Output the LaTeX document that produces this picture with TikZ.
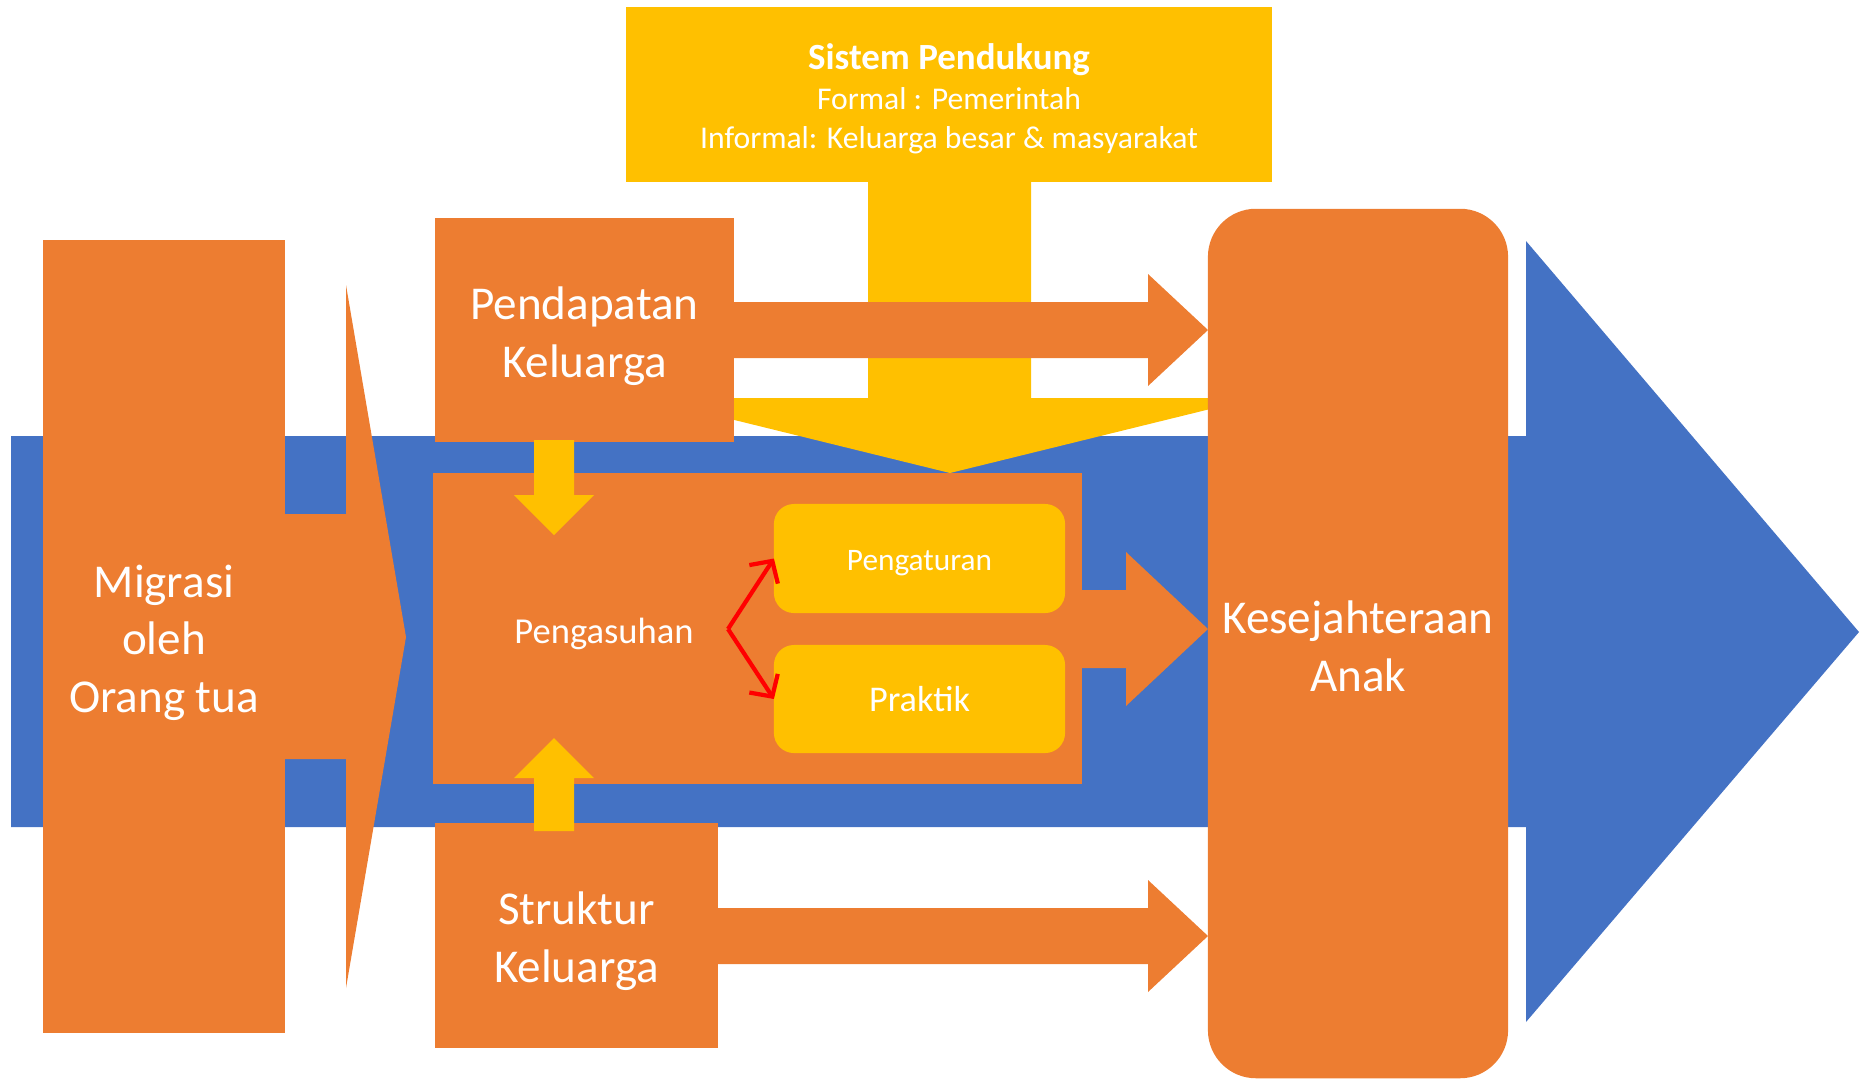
\documentclass[tikz,border=0pt]{standalone}
\usepackage{fontspec}
\setmainfont{Carlito}
\usetikzlibrary{arrows.meta,positioning,calc}
\definecolor{oranye}{HTML}{ED7D31}
\definecolor{biru}{HTML}{4472C4}
\definecolor{kuning}{HTML}{FFC000}
\definecolor{merah}{HTML}{FF0000}
\tikzset{
  kotak/.style={fill=oranye,inner sep=0pt,outer sep=0pt},
  kotakk/.style={fill=kuning,inner sep=0pt,outer sep=0pt,rounded corners=0.2cm},
  teks/.style={label={[text=white,align=center,font=\fontsize{13.4}{16.4}\selectfont,yshift=-0.06cm]center:#1}},
  tekss/.style={label={[text=white,font=\fontsize{8.9}{11}\selectfont,yshift=-0.05cm]center:#1}},
  panah/.style={merah,line width=1.2pt,-{Straight Barb[length=1.6mm,width=3.4mm]}},
}
\begin{document}
\begin{tikzpicture}[x=0.01cm,y=-0.01cm]
\useasboundingbox (0,0) rectangle (1860,1078);
% big blue arrow at the back
\fill[biru] (11,436)--(1526,436)--(1526,241)--(1859,632)--(1526,1022)--(1526,827)--(11,827)--cycle;
% migration
\node[kotak,teks={Migrasi\\oleh\\Orang tua},minimum width=2.42cm,minimum height=7.93cm] (migrasi) at (164,636.5) {};
\fill[oranye] (280,514)--(346,514)--(346,285)--(406,637)--(346,988)--(346,759)--(280,759)--cycle;
% support system
\node[fill=kuning,inner sep=0pt,minimum width=6.46cm,minimum height=1.75cm] (sistem) at (949,94.5) {};
\node[text=white,align=center,font=\fontsize{9}{11.2}\selectfont] (sistemtxt) at (949,99)
  {{\bfseries\fontsize{10.5}{12}\selectfont Sistem Pendukung}\\Formal : Pemerintah\\Informal: Keluarga besar \& masyarakat};
\fill[kuning] (868,180)--(1031,180)--(1031,398)--(1255,398)--(950,473)--(645,398)--(868,398)--cycle;
% income
\node[kotak,teks={Pendapatan\\Keluarga},minimum width=2.99cm,minimum height=2.24cm] (pendapatan) at (584.5,330) {};
\fill[oranye] (734,302)--(1148,302)--(1148,274)--(1208,330)--(1148,386)--(1148,358)--(734,358)--cycle;
% parenting
\node[kotak,minimum width=6.49cm,minimum height=3.11cm] (asuh) at (757.5,628.5) {};
\node[text=white,font=\fontsize{10.4}{12}\selectfont] (asuhtxt) at (604,634) {Pengasuhan};
\node[kotakk,tekss=Pengaturan,minimum width=2.91cm,minimum height=1.09cm] (atur) at (919.5,558.5) {};
\node[kotakk,text=white,minimum width=2.91cm,minimum height=1.08cm,font=\fontsize{10.3}{12}\selectfont] (praktik) at (919.5,699) {Praktik};
\coordinate (cabang) at (728,629);
\draw[panah] (cabang)--(atur.west);
\draw[panah] (cabang)--(praktik.west);
\fill[oranye] (1075,590)--(1126,590)--(1126,552)--(1208,629)--(1126,706)--(1126,668)--(1075,668)--cycle;
% family structure
\node[kotak,teks={Struktur\\Keluarga},minimum width=2.83cm,minimum height=2.25cm] (struktur) at (576.5,935.5) {};
\fill[oranye] (718,908)--(1148,908)--(1148,880)--(1208,936)--(1148,992)--(1148,964)--(718,964)--cycle;
% small yellow arrows
\fill[kuning] (534,440)--(574,440)--(574,495)--(594,495)--(554,535)--(514,495)--(534,495)--cycle;
\fill[kuning] (534,831)--(574,831)--(574,778)--(594,778)--(554,738)--(514,778)--(534,778)--cycle;
% child welfare
\node[kotak,rounded corners=0.48cm,minimum width=3cm,minimum height=8.69cm,
  label={[text=white,align=center,font=\fontsize{13.4}{16.4}\selectfont,yshift=-0.025cm]center:Kesejahteraan\\Anak}] (anak) at (1358,643.5) {};
\end{tikzpicture}
\end{document}
